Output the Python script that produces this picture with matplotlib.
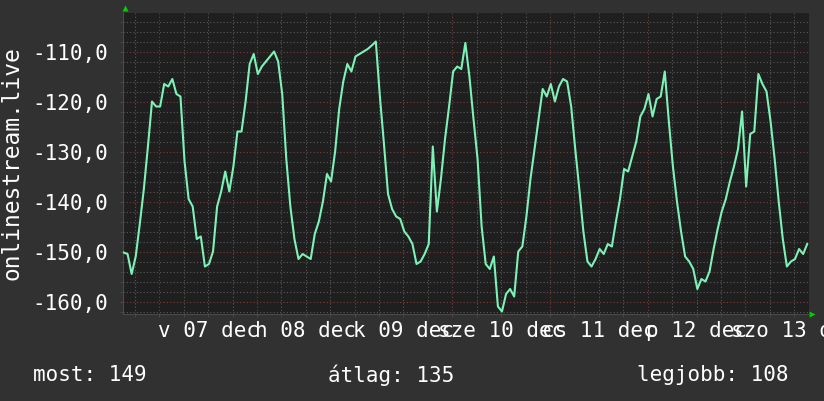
import numpy as np
import matplotlib
matplotlib.use("Agg")
import matplotlib.pyplot as plt
from matplotlib.ticker import MultipleLocator, FixedLocator

# hourly signal level (dB), first sample at Dec 6 15:12
start = 15.2
level = [
    -150.2, -150.5, -154.5, -151.0, -144.5, -137.5, -129.0, -120.0, -121.0, -121.0,
    -116.5, -117.0, -115.5, -118.5, -119.0, -132.0, -139.5, -141.0, -147.5, -147.0,
    -153.0, -152.5, -150.0, -141.0, -138.0, -134.0, -138.0, -133.0, -126.0, -126.0,
    -120.0, -112.5, -110.5, -114.5, -113.0, -112.0, -111.0, -110.0, -112.0, -118.5,
    -131.5, -141.0, -147.5, -151.5, -150.5, -151.0, -151.5, -146.5, -144.0, -140.0,
    -134.5, -136.0, -130.0, -121.5, -116.0, -112.5, -114.0, -111.0, -110.5, -110.0,
    -109.5, -108.8, -108.0, -119.0, -128.5, -138.5, -141.5, -143.0, -143.5, -146.0,
    -147.0, -148.5, -152.5, -152.0, -150.5, -148.5, -129.0, -142.0, -135.5, -127.5,
    -121.0, -114.0, -113.0, -113.5, -108.3, -115.0, -123.5, -131.5, -145.0, -152.5,
    -153.5, -151.0, -161.0, -162.0, -158.5, -157.5, -159.0, -150.0, -149.0, -143.0,
    -135.5, -129.5, -123.5, -117.5, -119.0, -116.5, -120.0, -117.0, -115.5, -116.0,
    -121.0, -129.5, -137.5, -146.0, -152.0, -153.0, -151.5, -149.5, -150.5, -148.5,
    -149.0, -144.0, -139.5, -133.5, -134.0, -131.0, -128.0, -123.0, -121.5, -118.5,
    -123.0, -119.5, -119.0, -114.0, -124.0, -133.0, -140.0, -146.0, -151.0, -152.0,
    -153.5, -157.5, -155.5, -156.0, -154.0, -149.5, -145.5, -142.0, -139.5, -136.0,
    -133.0, -129.5, -122.0, -137.0, -126.5, -126.0, -114.5, -116.5, -118.0, -124.0,
    -131.5, -140.0, -147.5, -153.0, -152.0, -151.5, -149.5, -150.5, -148.5,
]
day_labels = ["v 07 dec", "h 08 dec", "k 09 dec", "sze 10 dec",
              "cs 11 dec", "p 12 dec", "szo 13 dec"]
ytick_vals = [-160, -150, -140, -130, -120, -110]
ytick_text = ["-160,0", "-150,0", "-140,0", "-130,0", "-120,0", "-110,0"]
stats = ["most: 149", "átlag: 135", "legjobb: 108"]

BACK = "#313131"
CANVAS = "#1f1f1f"
LINE = "#7cf2b8"
MONO = "DejaVu Sans Mono"

hours = start + np.arange(len(level))

fig = plt.figure(figsize=(8.24, 4.02), dpi=100, facecolor=BACK)
W, H = 824, 402
ax = fig.add_axes([123.5 / W, 1 - 315 / H, 685.5 / W, 301 / H])
ax.set_facecolor(CANVAS)

ax.plot(hours, level, color=LINE, lw=1.5, zorder=3)

ax.set_xlim(start, start + 168.44)
ax.set_ylim(-162.5, -102.3)

# grid: minor every 6h / 2 dB, major every day / 10 dB
ax.xaxis.set_major_locator(MultipleLocator(24))
ax.xaxis.set_minor_locator(MultipleLocator(6))
ax.yaxis.set_major_locator(FixedLocator(ytick_vals))
ax.yaxis.set_minor_locator(MultipleLocator(2))
ax.grid(which="minor", color="#5a5a5a", linestyle=(0, (1, 2)), lw=0.8)
ax.grid(which="major", color="#7a3c3c", linestyle=(0, (1, 2)), lw=0.8)
ax.set_axisbelow(True)

ax.set_yticklabels(ytick_text)
ax.set_xticklabels([])
ax.tick_params(which="both", length=2, color="#4a4a4a")
ax.tick_params(axis="y", which="major", pad=9, labelsize=15, labelcolor="white")
for lab in ax.get_yticklabels():
    lab.set_family(MONO)

for s in ["top", "right"]:
    ax.spines[s].set_visible(False)
for s in ["left", "bottom"]:
    ax.spines[s].set_color("#4a4a4a")

# day labels centred at noon
for i, lab in enumerate(day_labels):
    ax.text(36 + 24 * i, -0.053, lab, transform=ax.get_xaxis_transform(),
            ha="center", va="center", fontsize=15, family=MONO, color="white",
            clip_on=False)

# axis arrows
ax.plot([0.002], [1.018], marker="^", ms=5, color="#00d000", mec="none",
        transform=ax.transAxes, clip_on=False)
ax.plot([1.004], [0.0], marker=">", ms=5, color="#00d000", mec="none",
        transform=ax.transAxes, clip_on=False)

fig.text(12 / W, 1 - 163 / H, "onlinestream.live", rotation=90, ha="center",
         va="center", fontsize=16.5, family=MONO, color="white")

for x, s in zip([33, 328, 637], stats):
    fig.text(x / W, 1 - 375 / H, s, ha="left", va="center", fontsize=15,
             family=MONO, color="white")

fig.savefig("out.png", dpi=100, facecolor=BACK)
